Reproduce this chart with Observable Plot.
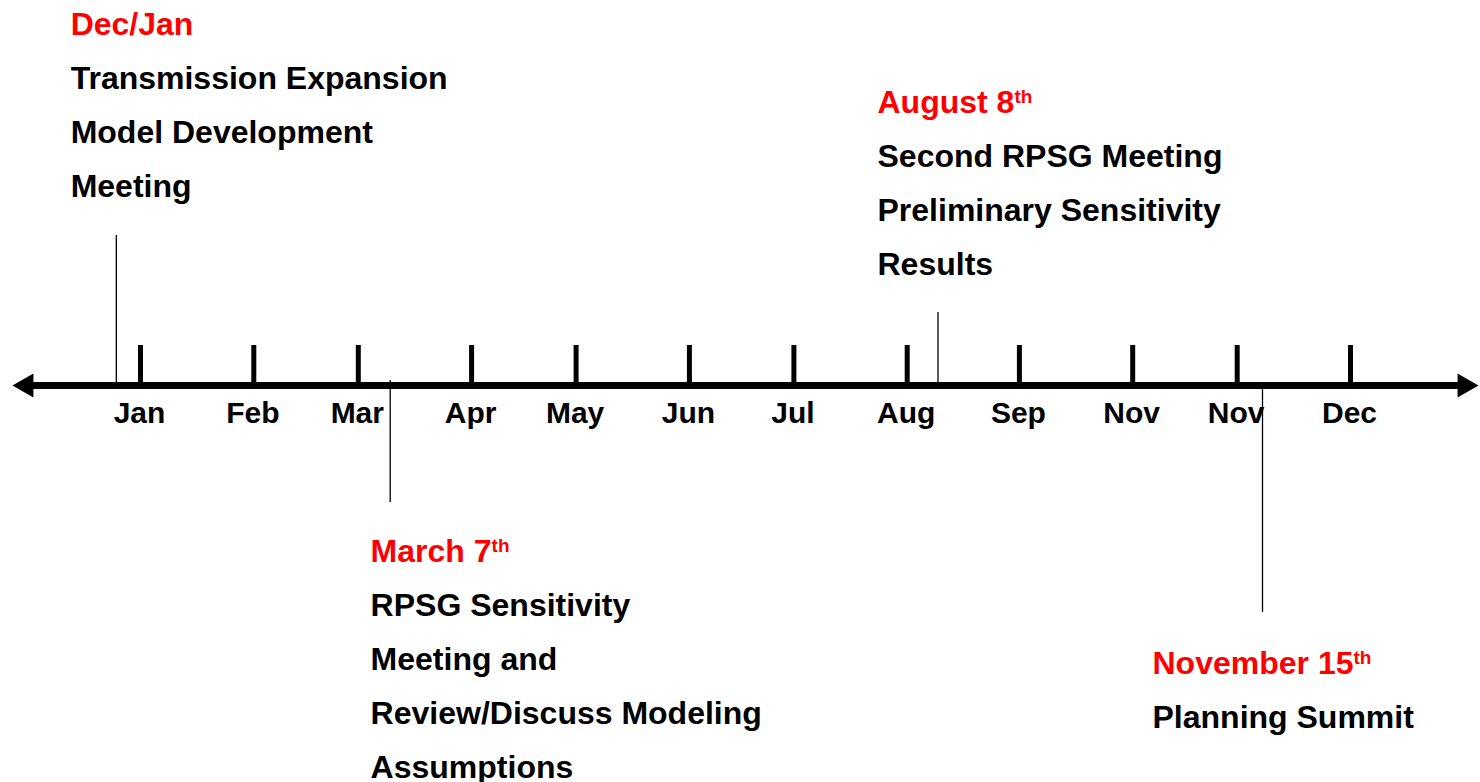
<!DOCTYPE html>
<html><head><meta charset="utf-8">
<script src="https://cdn.jsdelivr.net/npm/d3@7"></script>
<script src="https://cdn.jsdelivr.net/npm/@observablehq/plot@0.6"></script>
<style>html,body{margin:0;padding:0;background:#fff;} #chart svg{display:block;}</style>
</head><body><div id="chart"></div>
<script>
// ---- Data ----
// Month tick labels (as in the source, "Nov" appears twice)
const monthLabels = ["Jan","Feb","Mar","Apr","May","Jun","Jul","Aug","Sep","Nov","Nov","Dec"];
// Month tick positions along the timeline (month units)
const monthPos = [1.0, 2.03, 2.98, 4.01, 4.96, 5.99, 6.94, 7.97, 8.99, 10.02, 10.97, 12.0];
// Events
const eventDates = ["Dec/Jan", "March 7", "August 8", "November 15"];
const eventSup   = ["", "th", "th", "th"];
const eventPos   = [0.78, 3.27, 8.25, 11.2];
const eventText  = [
  ["Transmission Expansion", "Model Development", "Meeting"],
  ["RPSG Sensitivity", "Meeting and", "Review/Discuss Modeling", "Assumptions"],
  ["Second RPSG Meeting", "Preliminary Sensitivity", "Results"],
  ["Planning Summit"]
];
// Timeline extent (month units)
const axisExtent = [-0.164, 13.164];

// ---- Layout (label placement, in scale units) ----
const stemFrom = [0, 5, 0, -3];
const stemTo   = [150, -117, 73, -227];
const labelX   = [0.365, 3.092, 7.7, 10.2];
const labelY   = [351, -176, 273, -288];
const LINE = 54, TICK_H = 40, MONTH_Y = -37;

const events = eventDates.map((d, i) => ({
  date: d, sup: eventSup[i], pos: eventPos[i],
  y1: stemFrom[i], y2: stemTo[i], lx: labelX[i], ly: labelY[i]
}));
const bodyLines = events.flatMap((e, i) =>
  eventText[i].map((t, k) => ({text: t, lx: e.lx, ly: e.ly - LINE * (k + 1)})));
const months = monthLabels.map((m, i) => ({label: m, pos: monthPos[i]}));

const font = "'Liberation Sans', Arial, Helvetica, sans-serif";

const chart = Plot.plot({
  width: 1480, height: 782, margin: 0,
  style: {fontFamily: font, background: "#fff"},
  x: {domain: [0, 13], range: [30, 1460], axis: null},
  y: {domain: [385, -397], range: [0, 782], axis: null},
  marks: [
    // main axis line
    Plot.ruleY([0], {x1: axisExtent[0], x2: axisExtent[1], stroke: "#000", strokeWidth: 7, insetLeft: 15, insetRight: 15}),
    // arrowheads
    Plot.dot([axisExtent[0]], {x: d => d, y: 0, symbol: "triangle", r: 9, rotate: -90, fill: "#000", stroke: "none", dx: 14}),
    Plot.dot([axisExtent[1]], {x: d => d, y: 0, symbol: "triangle", r: 9, rotate: 90, fill: "#000", stroke: "none", dx: -14}),
    // month ticks
    Plot.ruleX(months, {x: "pos", y1: 0, y2: TICK_H, stroke: "#000", strokeWidth: 5}),
    // month labels
    Plot.text(months, {x: "pos", y: MONTH_Y, text: "label", fontSize: 30, fontWeight: "bold", fill: "#000", lineAnchor: "bottom", textAnchor: "middle", dx: -1}),
    // event stems
    Plot.ruleX(events, {x: "pos", y1: "y1", y2: "y2", stroke: "#000", strokeWidth: 1.3}),
    // event dates
    Plot.text(events, {x: "lx", y: "ly", text: "date", fontSize: 32, fontWeight: "bold", fill: "#ff0000", lineAnchor: "bottom", textAnchor: "start", ariaDescription: "event-date"}),
    // event descriptions
    Plot.text(bodyLines, {x: "lx", y: "ly", text: "text", fontSize: 32, fontWeight: "bold", fill: "#000", lineAnchor: "bottom", textAnchor: "start"})
  ]
});

// superscripts ("th") on dates
let dateTexts = chart.querySelectorAll('g[aria-description="event-date"] text');
if (!dateTexts.length) dateTexts = chart.querySelectorAll('g[fill="#ff0000"] text');
dateTexts.forEach((t, i) => {
  const s = events[i] && events[i].sup;
  if (!s) return;
  const ts = document.createElementNS("http://www.w3.org/2000/svg", "tspan");
  ts.setAttribute("dy", "-10");
  ts.setAttribute("font-size", "19");
  ts.textContent = s;
  t.appendChild(ts);
});

document.getElementById("chart").appendChild(chart);
</script>
</body></html>
